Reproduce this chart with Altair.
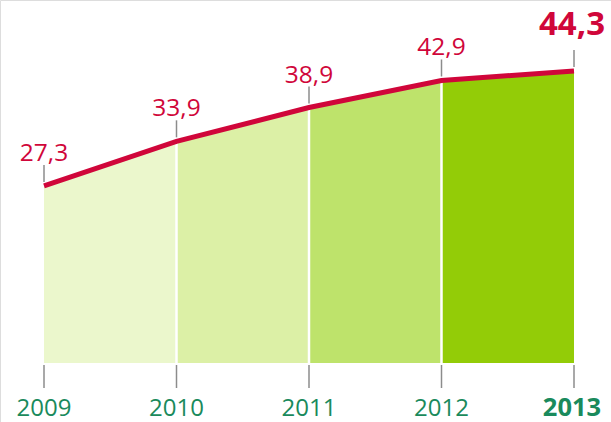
import altair as alt
import pandas as pd

years = [2009, 2010, 2011, 2012, 2013]
values = [27.3, 33.9, 38.9, 42.9, 44.3]
labels = ["27,3", "33,9", "38,9", "42,9", "44,3"]
year_labels = ["2009", "2010", "2011", "2012", "2013"]
seg_colors = ["#EBF7CC", "#DCF0A6", "#BEE36B", "#93CC07"]

RED = "#D0063A"
TEAL = "#1A8A5C"
FONT = "Open Sans"

pts = pd.DataFrame({"year": years, "value": values, "label": labels, "ylabel": year_labels})
pts["last"] = [y == years[-1] for y in years]

rows = []
for i in range(len(years) - 1):
    rows.append({"year": years[i], "value": values[i], "seg": i})
    rows.append({"year": years[i + 1], "value": values[i + 1], "seg": i})
segs = pd.DataFrame(rows)

xs = alt.X("year:Q", scale=alt.Scale(domain=[2009, 2013], range=[44, 574]), axis=None)
ys = alt.Y("value:Q", scale=alt.Scale(domain=[0, 44.3], range=[370.6, 71]), axis=None, stack=None)

area = alt.Chart(segs).mark_area(opacity=1, interpolate="linear").encode(
    x=xs, y=ys, y2=alt.value(363),
    color=alt.Color("seg:N", scale=alt.Scale(domain=[0, 1, 2, 3], range=seg_colors), legend=None),
    detail="seg:N",
)

dividers = alt.Chart(pts).transform_filter(
    "datum.year > 2009 && datum.year < 2013"
).mark_rule(color="white", strokeWidth=2.5).encode(x=xs, y=ys, y2=alt.value(363))

line = alt.Chart(pts).mark_line(color=RED, strokeWidth=5, strokeCap="butt").encode(x=xs, y=ys)

vticks = alt.Chart(pts).mark_rule(color="#8C8C8C", strokeWidth=1.5, yOffset=-21, y2Offset=-4).encode(
    x=xs, y=ys, y2="value:Q"
)

vlabels = alt.Chart(pts).transform_filter("!datum.last").mark_text(
    color=RED, font=FONT, fontSize=24.5, dy=-25, baseline="alphabetic", align="center"
).encode(x=xs, y=ys, text="label:N")

vlabel_last = alt.Chart(pts).transform_filter("datum.last").mark_text(
    color=RED, font=FONT, fontSize=33, fontWeight="bold", dy=-36, dx=-2, baseline="alphabetic", align="center"
).encode(x=xs, y=ys, text="label:N")

xticks = alt.Chart(pts).mark_rule(color="#8C8C8C", strokeWidth=1.5).encode(
    x=xs, y=alt.value(365), y2=alt.value(388)
)

xlabels = alt.Chart(pts).transform_filter("!datum.last").mark_text(
    color=TEAL, font=FONT, fontSize=24, baseline="alphabetic", align="center"
).encode(x=xs, y=alt.value(416), text="ylabel:N")

xlabel_last = alt.Chart(pts).transform_filter("datum.last").mark_text(
    color=TEAL, font=FONT, fontSize=25.5, fontWeight="bold", baseline="alphabetic", align="center", dx=-2
).encode(x=xs, y=alt.value(416), text="ylabel:N")

chart = alt.layer(
    area, dividers, line, vticks, vlabels, vlabel_last, xticks, xlabels, xlabel_last
).properties(
    width=611, height=422, autosize=alt.AutoSizeParams(type="none"), padding=0
).configure_view(stroke=None).configure(background="white")

chart.save("out.html", embed_options={"renderer": "svg", "actions": False})
